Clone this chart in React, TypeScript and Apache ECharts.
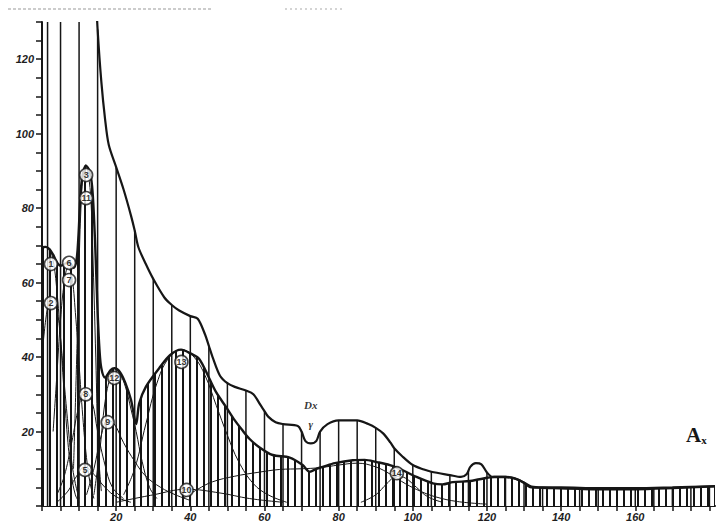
import React, { useEffect, useRef } from "react";
import * as echarts from "echarts";

// Outer envelope (total measured curve)
const envelope: [number, number][] = [
  [14.4, 140], [15, 128], [16, 114], [17, 104], [18, 97], [20, 91], [22, 85], [24, 78], [25, 74],
  [26, 69.5], [28, 65], [30, 61], [33, 56], [35, 54], [37, 52.5], [40, 51], [42, 50.3], [44, 46],
  [45, 43], [46, 40], [48, 35], [50, 33], [52, 32], [55, 31], [57, 30], [59, 27], [60, 25.5],
  [61, 24], [63, 22.5], [65, 22], [69, 21.5], [70, 20], [71, 17.5], [72.5, 16.8], [74, 17.5],
  [75, 20], [77, 22], [80, 23], [85, 23], [88, 22], [90, 21], [92, 19.5], [94, 17], [95, 15.5],
  [97, 13.5], [100, 11], [103, 9.8], [105, 9.2], [110, 8.3], [113, 7.8], [114.5, 8.5],
  [115.5, 10.5], [117, 11.5], [118.5, 11.2], [120, 9], [121.5, 7.8], [125, 7.8], [127, 7.6],
  [130, 6.3], [132, 5.2], [135, 5], [140, 5], [150, 4.8], [160, 4.8], [170, 5], [181.5, 5.3],
];

// Sum of the components (bounds the densely hatched area)
const sumCurve: [number, number][] = [
  [0, 69.5], [1, 69.6], [2, 69], [3, 67.5], [4, 65.5], [5, 64.5], [6, 65], [7.3, 65.5], [8.5, 64],
  [9.3, 66], [9.8, 72], [10.3, 82], [10.8, 88], [11.8, 91.5], [12.8, 90], [13.5, 86], [14, 78],
  [14.5, 66], [15, 52], [15.5, 42], [16, 37], [17, 34.5], [18.5, 36.5], [19.5, 37], [21, 36],
  [22.5, 33], [24, 28.5], [25.4, 22], [26.2, 27.5], [28, 32], [31.6, 37], [34.5, 40.5],
  [37.5, 42], [40, 41], [42.4, 39.5], [45, 34.5], [47, 30.5], [49.7, 26.5], [52, 23], [54, 20.4],
  [56, 18], [58.6, 15.8], [62.2, 13.7], [66.8, 13], [70.3, 11], [72.2, 9.2], [74, 10],
  [75.7, 10.5], [79, 11.5], [83.8, 12.3], [87, 12.4], [90.3, 11.8], [93.8, 11], [97.3, 9.6],
  [101, 7.8], [105.4, 6.1], [108, 5.8], [110.8, 6.4], [115.4, 6.7], [118, 7.2], [122, 7.8],
  [125, 7.8], [128, 7.2], [130, 6.2], [131.6, 5.1], [135, 4.9], [137.8, 4.8], [145, 4.6],
  [150, 4.5], [160, 4.5], [170, 4.8], [181.5, 5.3],
];

// Vertical ordinates every 5 units, drawn up to the envelope
const dropX = [1.5, 5, 10, 15, 20, 25, 30, 35, 40, 45, 50, 55, 60, 65, 70, 75, 80, 85, 90, 95, 100,
  105, 110, 115, 120, 125, 130, 135, 140, 145, 150, 155, 160, 165, 170, 175, 180];
const dropY = [130, 130, 130, 128, 91, 74, 61, 54, 51, 43, 33, 31, 25.5, 22, 20, 20, 23, 23, 21,
  15.5, 11, 9.2, 8.3, 9.5, 9, 7.8, 6.3, 5, 5, 4.9, 4.8, 4.8, 4.8, 4.9, 5, 5.1, 5.2];

// Individual components
const comp1: [number, number][] = [[0, 69], [1, 69.5], [2, 69], [3, 66], [4, 58], [5, 45], [6, 30], [7, 17], [8, 8], [9, 3], [10, 1]];
const comp2: [number, number][] = [[0, 40], [1, 50], [2, 55], [3, 56], [4, 53], [5, 45], [6, 33], [7, 22], [8, 12], [9, 6], [10, 2]];
const comp7: [number, number][] = [[3, 20], [4, 35], [5, 50], [6, 60], [7, 64], [8, 62], [9, 52], [10, 38], [11, 24], [12, 13], [13, 6], [14, 2]];
const comp11: [number, number][] = [[8.5, 10], [9.5, 45], [10, 65], [10.5, 80], [11, 88], [11.8, 91.5], [12.5, 89], [13.2, 82], [13.8, 65], [14.5, 40], [15.2, 15], [16, 4]];
const comp8: [number, number][] = [[4, 3], [6, 8], [8, 17], [10, 27], [11.7, 31], [13.5, 28], [15, 20], [17, 11], [19, 5], [22, 2]];
const comp9: [number, number][] = [[12, 3], [14, 10], [16, 19], [17.7, 23], [19.5, 22], [22, 17], [25, 12], [28, 8], [32, 5], [36, 3], [40, 1.5]];
const comp5: [number, number][] = [[4, 1], [7, 4], [9, 7.5], [11.6, 10.5], [14, 8.5], [17, 5], [20, 2.5], [24, 1]];
const comp12: [number, number][] = [[14, 3], [15.5, 14], [17, 28], [18.5, 35], [19.5, 37], [21, 35.5], [22.5, 32], [24, 26], [25.4, 20], [27, 12], [29, 5], [31, 2]];
const comp13: [number, number][] = [[22, 3], [25, 10], [28, 22], [31, 33], [34, 39.5], [37.5, 42], [41, 40], [44, 35], [47, 27], [50, 19], [53, 12], [57, 6], [61, 3], [66, 1]];
const comp10: [number, number][] = [[20, 1], [30, 3], [39, 4.5], [48, 3.5], [56, 2], [65, 1]];
const comp14: [number, number][] = [[38, 2], [42, 4.5], [46, 6.5], [52, 8], [58, 9], [64, 9.8], [70, 10], [75, 10.3], [80, 11], [85, 11.5], [90, 10.5], [94, 8.5], [98, 6], [102, 4], [106, 2.5], [112, 1.2], [120, 0.5]];
const comp15: [number, number][] = [[86, 1], [90, 3], [93, 6], [95.7, 8], [98, 7.5], [101, 5], [104, 2.5], [108, 1]];
const components = [comp1, comp2, comp7, comp11, comp8, comp9, comp5, comp12, comp13, comp10, comp14, comp15];

// Circled component numbers
const tagText = ["1", "2", "6", "7", "3", "11", "8", "9", "5", "12", "13", "10", "14"];
const tagX = [2.4, 2.4, 7.3, 7.3, 11.9, 11.9, 11.8, 17.7, 11.6, 19.5, 37.6, 39, 95.7];
const tagY = [65, 54.5, 65.3, 60.7, 88.9, 82.7, 30, 22.5, 9.7, 34.4, 38.7, 4.3, 8.8];

const xLabels = [20, 40, 60, 80, 100, 120, 140, 160];
const yLabels = [20, 40, 60, 80, 100, 120];

export default function App() {
  const ref = useRef<HTMLDivElement>(null);
  useEffect(() => {
    document.body.style.margin = "0";
    if (!ref.current) return;
    const chart = echarts.init(ref.current, null, { renderer: "svg" });

    const cv = document.createElement("canvas");
    cv.width = 7;
    cv.height = 4;
    const ctx = cv.getContext("2d")!;
    ctx.fillStyle = "#ffffff";
    ctx.fillRect(0, 0, 7, 4);
    ctx.fillStyle = "#151515";
    ctx.fillRect(0, 0, 2, 4);

    const ink = "#161616";
    const axisLabelStyle = {
      fontFamily: "Liberation Sans",
      fontStyle: "italic" as const,
      fontWeight: "bold" as const,
      fontSize: 11,
      color: "#1e1e1e",
    };

    const series: any[] = [
      {
        type: "line",
        data: sumCurve,
        smooth: 0.3,
        symbol: "none",
        lineStyle: { color: ink, width: 2.4 },
        areaStyle: { color: { image: cv, repeat: "repeat" }, opacity: 1 },
        z: 2,
      },
      {
        type: "bar",
        data: dropX.map((x, i) => [x, dropY[i]]),
        barWidth: 1.5,
        itemStyle: { color: ink },
        z: 3,
      },
      ...components.map((c) => ({
        type: "line",
        data: c,
        smooth: 0.4,
        symbol: "none",
        lineStyle: { color: ink, width: 1 },
        z: 4,
      })),
      {
        type: "line",
        data: envelope,
        smooth: 0.3,
        symbol: "none",
        lineStyle: { color: ink, width: 2.2 },
        z: 5,
      },
      {
        type: "scatter",
        data: tagText.map((t, i) => ({ value: [tagX[i], tagY[i]], name: t })),
        symbol: "circle",
        symbolSize: 13,
        itemStyle: { color: "#fff", borderColor: ink, borderWidth: 1.6 },
        label: {
          show: true,
          position: "inside",
          formatter: (p: any) => p.name,
          fontSize: 9,
          fontWeight: "bold",
          fontFamily: "Liberation Sans",
          color: "#000",
        },
        z: 6,
      },
      {
        type: "scatter",
        data: [
          { value: [72.5, 27], name: "Dx" },
          { value: [72.5, 22], name: "γ" },
        ],
        symbolSize: 1,
        itemStyle: { color: "rgba(0,0,0,0)" },
        label: {
          show: true,
          position: "inside",
          formatter: (p: any) => p.name,
          fontSize: 11,
          fontStyle: "italic",
          fontWeight: "bold",
          fontFamily: "Liberation Serif",
          color: "#000",
        },
        z: 6,
      },
    ];

    chart.setOption({
      animation: false,
      backgroundColor: "#fff",
      grid: { left: 42, right: 2, top: 22, bottom: 19, containLabel: false },
      xAxis: {
        type: "value",
        min: 0,
        max: 181.5,
        interval: 5,
        splitLine: { show: false },
        axisLine: { lineStyle: { color: ink, width: 2 } },
        axisTick: { length: 5, lineStyle: { color: ink, width: 1.5 } },
        axisLabel: {
          ...axisLabelStyle,
          margin: 5,
          showMaxLabel: false,
          formatter: (v: number) => (xLabels.includes(v) ? String(v) : ""),
        },
      },
      yAxis: {
        type: "value",
        min: 0,
        max: 130,
        interval: 5,
        splitLine: { show: false },
        axisLine: { show: true, lineStyle: { color: ink, width: 2 } },
        axisTick: { show: true, length: 6, lineStyle: { color: ink, width: 1.5 } },
        axisLabel: {
          ...axisLabelStyle,
          margin: 8,
          formatter: (v: number) => (yLabels.includes(v) ? String(v) : ""),
        },
      },
      graphic: [
        {
          type: "text",
          left: 686,
          top: 424,
          style: {
            text: "{a|A}{b|x}",
            rich: {
              a: { fontFamily: "Liberation Serif", fontWeight: "bold", fontSize: 21, fill: ink },
              b: { fontFamily: "Liberation Serif", fontWeight: "bold", fontSize: 11, fill: ink, padding: [10, 0, 0, 0] },
            },
          },
        },
        {
          type: "line",
          shape: { x1: 8, y1: 9, x2: 212, y2: 9 },
          style: { stroke: "#999", lineWidth: 1.2, lineDash: [3, 2] },
        },
        {
          type: "line",
          shape: { x1: 285, y1: 9, x2: 345, y2: 9 },
          style: { stroke: "#aaa", lineWidth: 1.2, lineDash: [2, 3] },
        },
      ],
      series,
    });
    return () => chart.dispose();
  }, []);
  return <div ref={ref} style={{ width: 717, height: 525 }} />;
}
